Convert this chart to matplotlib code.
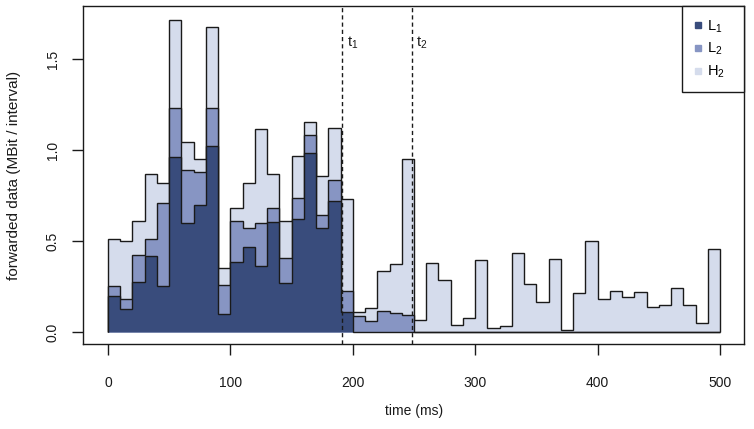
import numpy as np
import matplotlib
matplotlib.use("Agg")
import matplotlib.pyplot as plt
from matplotlib.lines import Line2D

plt.rcParams["font.family"] = ["Liberation Sans", "DejaVu Sans"]

# 10 ms intervals, 0..500 ms
bin_edges = np.arange(0, 510, 10)

# forwarded data per interval (MBit), per class
L1 = [0.20, 0.125, 0.277, 0.416, 0.253, 0.963, 0.597, 0.70, 1.02, 0.099,
      0.383, 0.465, 0.363, 0.606, 0.271, 0.619, 0.982, 0.57, 0.718, 0.112,
      0, 0, 0, 0, 0, 0, 0, 0, 0, 0,
      0, 0, 0, 0, 0, 0, 0, 0, 0, 0,
      0, 0, 0, 0, 0, 0, 0, 0, 0, 0]
L2 = [0.055, 0.058, 0.148, 0.096, 0.454, 0.266, 0.293, 0.179, 0.212, 0.159,
      0.226, 0.105, 0.234, 0.074, 0.134, 0.116, 0.103, 0.07, 0.117, 0.115,
      0.09, 0.06, 0.117, 0.106, 0.093, 0, 0, 0, 0, 0,
      0, 0, 0, 0, 0, 0, 0, 0, 0, 0,
      0, 0, 0, 0, 0, 0, 0, 0, 0, 0]
H2 = [0.257, 0.317, 0.185, 0.358, 0.111, 0.485, 0.156, 0.073, 0.445, 0.095,
      0.074, 0.247, 0.517, 0.186, 0.205, 0.232, 0.071, 0.218, 0.285, 0.503,
      0.02, 0.07, 0.218, 0.268, 0.856, 0.066, 0.377, 0.286, 0.038, 0.075,
      0.396, 0.02, 0.033, 0.432, 0.264, 0.167, 0.399, 0.011, 0.216, 0.502,
      0.181, 0.225, 0.19, 0.22, 0.139, 0.148, 0.244, 0.147, 0.048, 0.454]

t1 = 191
t2 = 248

labels = ["L1", "L2", "H2"]
colors = ["#394c7c", "#8795c3", "#d5dcec"]
ink = "#1a1a1a"

c1 = np.array(L1)
c2 = c1 + np.array(L2)
c3 = c2 + np.array(H2)

fig = plt.figure(figsize=(7.54, 4.29), dpi=100)
ax = fig.add_axes([0.1107, 0.197, 0.8767, 0.788])

for vals, col in zip([c3, c2, c1], colors[::-1]):
    ax.stairs(vals, bin_edges, baseline=0, fill=True,
              facecolor=col, edgecolor=ink, linewidth=1.0)

for t in (t1, t2):
    ax.axvline(t, color=ink, linestyle=(0, (3.0, 2.2)), linewidth=1.0)
ax.text(t1 + 4, 1.59, r"$\mathregular{t_1}$", fontsize=10.5, color=ink,
        va="center", ha="left")
ax.text(t2 + 4, 1.59, r"$\mathregular{t_2}$", fontsize=10.5, color=ink,
        va="center", ha="left")

ax.set_xlim(-20, 520)
ax.set_ylim(-0.0688, 1.7888)
ax.set_xticks([0, 100, 200, 300, 400, 500])
ax.set_yticks([0, 0.5, 1.0, 1.5])
ax.set_yticklabels(["0.0", "0.5", "1.0", "1.5"], rotation=90, va="center")
ax.tick_params(direction="out", length=8, width=1, colors=ink,
               labelsize=10)
ax.tick_params(axis="x", pad=15)
ax.tick_params(axis="y", pad=9)
for s in ax.spines.values():
    s.set_color(ink)
    s.set_linewidth(1)

ax.set_xlabel("time (ms)", fontsize=10, color=ink, labelpad=10)
ax.set_ylabel("forwarded data (MBit / interval)", fontsize=11, color=ink,
              labelpad=18)

handles = [Line2D([], [], linestyle="none", marker="s", markersize=4.5,
                  markerfacecolor=c, markeredgecolor=c) for c in colors]
leg_labels = [r"$\mathregular{%s_%s}$" % (l[0], l[1]) for l in labels]
leg = ax.legend(handles, leg_labels, loc="upper right",
                bbox_to_anchor=(0.9054, 0.0, 0.0946, 1.0), mode="expand",
                borderaxespad=0, fancybox=False, fontsize=10.5,
                handlelength=0.6, handletextpad=0.35, labelspacing=0.45,
                borderpad=0.8)
leg.get_frame().set_edgecolor(ink)
leg.get_frame().set_linewidth(1)
leg.get_frame().set_alpha(1)

fig.savefig("out.png", dpi=100)
